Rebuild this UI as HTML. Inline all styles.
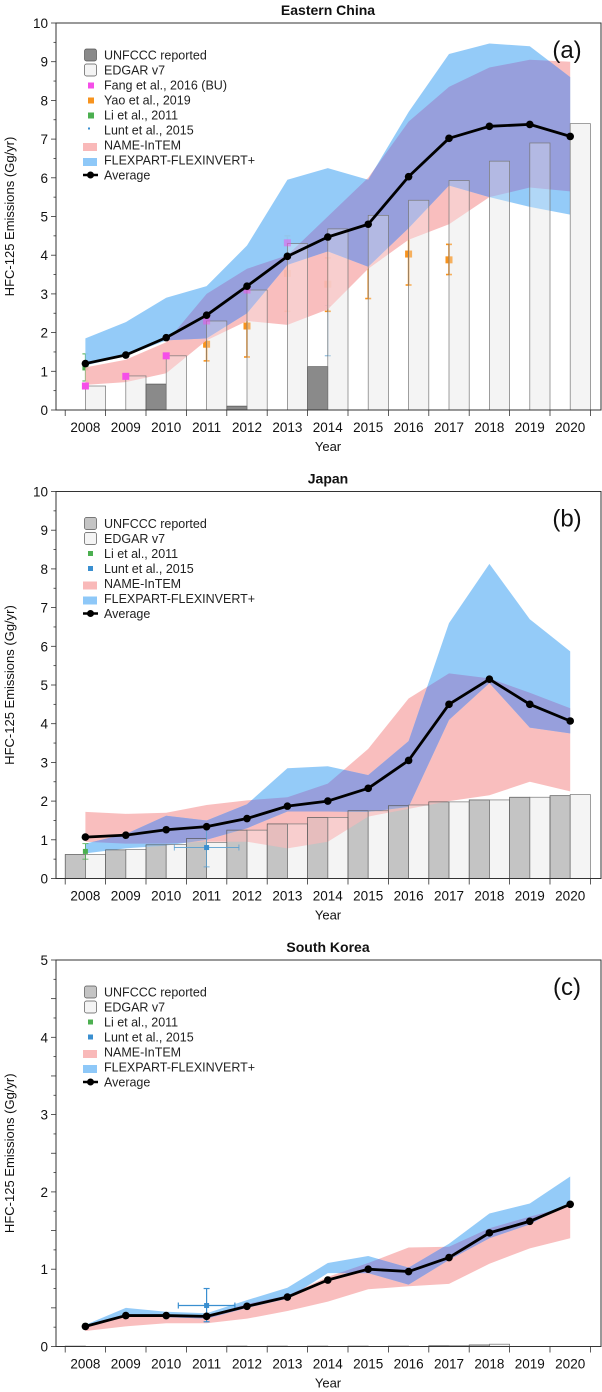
<!DOCTYPE html>
<html><head><meta charset="utf-8">
<style>
html,body{margin:0;padding:0;background:#fff;}
svg{display:block;font-family:"Liberation Sans",Arial,sans-serif;}
</style></head>
<body>
<svg id="fig" width="602" height="1392" viewBox="0 0 602 1392" xmlns="http://www.w3.org/2000/svg"></svg>
<script>
const years = [2008,2009,2010,2011,2012,2013,2014,2015,2016,2017,2018,2019,2020];
// Eastern China
const chinaAvg = [1.2,1.42,1.87,2.45,3.2,3.97,4.47,4.8,6.03,7.02,7.33,7.38,7.07];
const chinaEdgar = [0.62,0.88,1.4,2.3,3.1,4.3,4.68,5.03,5.42,5.93,6.43,6.9,7.4];
const chinaUnfccc = [0,0,0.67,0,0.1,0,1.12,0,0,0,0,0,0];
const chinaNameLo = [0.65,0.72,0.95,1.8,2.3,2.2,2.6,3.65,4.4,4.8,5.5,5.75,5.65];
const chinaNameHi = [1.1,1.3,1.75,3.0,3.65,4.0,5.0,6.0,7.45,8.35,8.85,9.05,9.0];
const chinaFlexLo = [1.15,1.4,1.8,1.85,2.5,3.75,4.1,3.7,4.7,5.8,5.5,5.25,5.05];
const chinaFlexHi = [1.85,2.27,2.9,3.2,4.25,5.95,6.25,5.95,7.7,9.2,9.47,9.4,8.6];
const yaoYears = [2011,2012,2013,2014,2015,2016,2017];
const yaoVal = [1.7,2.17,3.53,3.25,4.05,4.03,3.88];
const yaoLo = [1.27,1.37,2.55,2.55,2.88,3.23,3.5];
const yaoHi = [2.12,2.95,4.5,3.93,5.25,4.82,4.28];
const fangYears = [2008,2009,2010,2011,2012,2013];
const fangVal = [0.62,0.87,1.4,2.3,3.1,4.32];
// Japan
const japanAvg = [1.07,1.12,1.26,1.34,1.55,1.87,2.0,2.33,3.05,4.5,5.15,4.5,4.07];
const japanUnfccc = [0.62,0.74,0.87,1.03,1.25,1.41,1.58,1.75,1.88,1.98,2.03,2.1,2.14];
const japanEdgar = [0.62,0.75,0.88,0.93,1.25,1.41,1.58,1.75,1.9,1.98,2.03,2.1,2.17];
const japanNameLo = [0.95,0.9,0.9,0.95,0.95,0.78,0.95,1.6,1.8,2.0,2.15,2.5,2.25];
const japanNameHi = [1.72,1.67,1.7,1.9,2.02,2.1,2.45,3.35,4.65,5.3,5.17,4.8,4.4];
const japanFlexLo = [0.65,0.78,0.85,1.0,1.3,1.73,1.73,1.72,1.85,4.1,5.05,3.9,3.75];
const japanFlexHi = [0.9,1.15,1.62,1.5,1.92,2.85,2.9,2.67,3.55,6.6,8.13,6.7,5.87];
// South Korea
const koreaAvg = [0.26,0.4,0.4,0.39,0.52,0.64,0.86,1.0,0.97,1.15,1.47,1.62,1.84];
const koreaUnfccc = [0.005,0,0,0,0.005,0.005,0.005,0.005,0.005,0.01,0.02,0,0];
const koreaEdgar = [0,0,0,0,0,0,0,0,0,0.01,0.03,0,0];
const koreaNameLo = [0.2,0.26,0.3,0.3,0.36,0.46,0.58,0.74,0.78,0.81,1.07,1.27,1.4];
const koreaNameHi = [0.27,0.42,0.4,0.4,0.55,0.66,0.9,1.08,1.28,1.29,1.53,1.68,1.82];
const koreaFlexLo = [0.25,0.4,0.38,0.36,0.5,0.62,0.95,0.95,0.8,1.12,1.4,1.58,1.87];
const koreaFlexHi = [0.28,0.5,0.45,0.43,0.6,0.76,1.08,1.17,1.02,1.33,1.72,1.85,2.2];

const NS = "http://www.w3.org/2000/svg";
const svg = document.getElementById('fig');
function mk(tag, attrs, parent){
  const e = document.createElementNS(NS, tag);
  for (const k in attrs) e.setAttribute(k, attrs[k]);
  (parent||svg).appendChild(e);
  return e;
}
let clipId = 0;

function panel(cfg){
  const g = mk('g', {});
  
  
  const L = 56, R = 601, T = cfg.top, B = cfg.bottom;
  const X = yr => 85.4 + 40.4 * (yr - 2008);
  const Y = v => B - (B - T) * v / cfg.ymax;
  const slot = 40.4;
  const t = mk('text', {x: 328, y: T - 8, 'text-anchor': 'middle', 'font-size': 14, 'font-weight': 'bold', fill: '#111'}, g);
  t.textContent = cfg.title;
  
  
  // solid bar backgrounds
  const drawBars = (alpha, stroke) => {
    years.forEach((yr, i) => {
      if (cfg.unfccc[i] > 0) {
        const b = mk('rect', {x: X(yr) - slot/2, y: Y(cfg.unfccc[i]), width: slot/2, height: B - Y(cfg.unfccc[i]), fill: cfg.unfColor, 'fill-opacity': alpha, stroke: stroke ? '#555' : 'none', 'stroke-width': 0.7}, g);
        
        
      }
      if (cfg.edgar[i] > 0) {
        const b = mk('rect', {x: X(yr), y: Y(cfg.edgar[i]), width: slot/2, height: B - Y(cfg.edgar[i]), fill: '#f4f4f4', 'fill-opacity': alpha, stroke: stroke ? '#777' : 'none', 'stroke-width': 0.7}, g);
        
        
      }
    });
  };
  drawBars(1, false);
  if (cfg.pre) cfg.pre(g, X, Y);
  const poly = (lo, hi) => {
    const pts = years.map((yr, i) => X(yr) + ',' + Y(hi[i]));
    for (let i = years.length - 1; i >= 0; i--) pts.push(X(years[i]) + ',' + Y(lo[i]));
    return pts.join(' ');
  };
  const pn = poly(cfg.nameLo, cfg.nameHi), pf = poly(cfg.flexLo, cfg.flexHi);
  const p1 = mk('polygon', {points: pn, fill: '#f9b9b9', 'fill-opacity': 0.92}, g);
  
  
  const p2 = mk('polygon', {points: pf, fill: '#8ec8f8', 'fill-opacity': 0.95}, g);
  
  
  const cid = 'clip' + (clipId++);
  const cp = mk('clipPath', {id: cid}, g);
  mk('polygon', {points: pf}, cp);
  const p3 = mk('polygon', {points: pn, fill: '#979fdc', 'clip-path': 'url(#' + cid + ')'}, g);
  
  
  // translucent bars on top (bands show through)
  drawBars(0.3, true);
  if (cfg.post) cfg.post(g, X, Y);
  const line = mk('polyline', {points: years.map((yr, i) => X(yr) + ',' + Y(cfg.avg[i])).join(' '), fill: 'none', stroke: '#000', 'stroke-width': 2.8, 'stroke-linejoin': 'round'}, g);
  
  
  years.forEach((yr, i) => {
    const c = mk('circle', {cx: X(yr), cy: Y(cfg.avg[i]), r: 3.8, fill: '#000'}, g);
    
    
  });
  mk('rect', {x: L, y: T, width: R - L, height: B - T, fill: 'none', stroke: '#333', 'stroke-width': 1}, g);
  for (let k = 0; k <= 20; k++) {
    const v = k * cfg.ymax / 20; const y = Y(v);
    mk('line', {x1: L - (k % 2 ? 2.5 : 5), x2: L, y1: y, y2: y, stroke: '#333', 'stroke-width': 0.8}, g);
    if (k % 2 === 0 && cfg.ymax === 10 || k % 4 === 0 && cfg.ymax === 5) {
      const tl = mk('text', {x: L - 8, y: y + 5, 'text-anchor': 'end', 'font-size': 13.5, fill: '#111'}, g);
      tl.textContent = String(Math.round(v));
      
      
    }
  }
  for (let k = 0; k <= 13; k++) {
    const x = X(2007.5 + k);
    mk('line', {x1: x, x2: x, y1: B, y2: B + 6, stroke: '#333', 'stroke-width': 0.8}, g);
  }
  years.forEach(yr => {
    const tl = mk('text', {x: X(yr), y: B + 22, 'text-anchor': 'middle', 'font-size': 13.5, fill: '#111'}, g);
    tl.textContent = String(yr);
    
    
  });
  const xt = mk('text', {x: 328, y: B + 41, 'text-anchor': 'middle', 'font-size': 13, fill: '#111'}, g);
  xt.textContent = 'Year';
  
  
  const yc = (T + B) / 2;
  const yt = mk('text', {x: 0, y: 0, transform: 'translate(14,' + yc + ') rotate(-90)', 'text-anchor': 'middle', 'font-size': 13, fill: '#111'}, g);
  yt.textContent = 'HFC-125 Emissions (Gg/yr)';
  
  
  const pl = mk('text', {x: 567, y: T + 35, 'text-anchor': 'middle', 'font-size': 24, fill: '#111'}, g);
  pl.textContent = cfg.label;
  
  
  const lg = mk('g', {}, g);
  
  
  let ly = T + cfg.legTop;
  cfg.legend.forEach(it => {
    const e = mk('g', {}, lg);
    
    
    if (it.type === 'bar') mk('rect', {x: 84.5, y: ly - 6, width: 12, height: 12, rx: 2, fill: it.color, stroke: '#555', 'stroke-width': 0.7}, e);
    else if (it.type === 'sq') mk('rect', {x: 88, y: ly - 2.5, width: it.s || 5, height: it.s || 5, fill: it.color}, e);
    else if (it.type === 'band') mk('rect', {x: 83, y: ly - 2, width: 14, height: 8, fill: it.color}, e);
    else { mk('line', {x1: 83, x2: 98, y1: ly, y2: ly, stroke: '#000', 'stroke-width': 2.5}, e); mk('circle', {cx: 90.5, cy: ly, r: 3.5, fill: '#000'}, e); }
    const tx = mk('text', {x: 104, y: ly + 4.5, 'font-size': 12.5, fill: '#222'}, e);
    tx.textContent = it.text;
    ly += 15;
  });
}

function errBar(g, x, y, lo, hi, col, w, name, xlo, xhi){
  const e = mk('g', {}, g);
  
  
  mk('line', {x1: x, x2: x, y1: lo, y2: hi, stroke: col, 'stroke-width': w}, e);
  mk('line', {x1: x - 3, x2: x + 3, y1: lo, y2: lo, stroke: col, 'stroke-width': w}, e);
  mk('line', {x1: x - 3, x2: x + 3, y1: hi, y2: hi, stroke: col, 'stroke-width': w}, e);
  if (xlo !== undefined) {
    mk('line', {x1: xlo, x2: xhi, y1: y, y2: y, stroke: col, 'stroke-width': w}, e);
    mk('line', {x1: xlo, x2: xlo, y1: y - 3, y2: y + 3, stroke: col, 'stroke-width': w}, e);
    mk('line', {x1: xhi, x2: xhi, y1: y - 3, y2: y + 3, stroke: col, 'stroke-width': w}, e);
  }
  return e;
}

panel({id: 'eastern-china', title: 'Eastern China', label: '(a)', top: 23, bottom: 410, ymax: 10,
  avg: chinaAvg, edgar: chinaEdgar, unfccc: chinaUnfccc, unfColor: '#8a8a8a',
  nameLo: chinaNameLo, nameHi: chinaNameHi, flexLo: chinaFlexLo, flexHi: chinaFlexHi, legTop: 32,
  pre: (g, X, Y) => {
    yaoYears.forEach((yr, i) => {
      const e = errBar(g, X(yr), Y(yaoVal[i]), Y(yaoLo[i]), Y(yaoHi[i]), '#f7931e', 1.6, 'yao-2019-point-' + yr);
      mk('rect', {x: X(yr) - 3.5, y: Y(yaoVal[i]) - 3.5, width: 7, height: 7, fill: '#f7931e'}, e);
    });
    errBar(g, X(2008), Y(1.1), Y(0.75), Y(1.45), '#4caf50', 1, 'li-2011-point');
    mk('rect', {x: X(2008) - 3, y: Y(1.1) - 3, width: 6, height: 6, fill: '#4caf50'}, g);
    errBar(g, X(2014), Y(2.0), Y(1.4), Y(2.7), '#5aa0d0', 0.8, 'lunt-2015-point');
  },
  post: (g, X, Y) => {
    fangYears.forEach((yr, i) => {
      const r = mk('rect', {x: X(yr) - 3.5, y: Y(fangVal[i]) - 3.5, width: 7, height: 7, fill: '#f54ee8', 'fill-opacity': yr >= 2011 ? 0.5 : 1}, g);
      
      
    });
  },
  legend: [
    {type: 'bar', color: '#8a8a8a', text: 'UNFCCC reported'},
    {type: 'bar', color: '#f4f4f4', text: 'EDGAR v7'},
    {type: 'sq', color: '#f54ee8', text: 'Fang et al., 2016 (BU)', s: 6},
    {type: 'sq', color: '#f7931e', text: 'Yao et al., 2019', s: 6},
    {type: 'sq', color: '#4caf50', text: 'Li et al., 2011', s: 6},
    {type: 'sq', color: '#3a8fd0', text: 'Lunt et al., 2015', s: 2},
    {type: 'band', color: '#f9b9b9', text: 'NAME-InTEM'},
    {type: 'band', color: '#8ec8f8', text: 'FLEXPART-FLEXINVERT+'},
    {type: 'avg', text: 'Average'}
  ]});

panel({id: 'japan', title: 'Japan', label: '(b)', top: 491.5, bottom: 878.5, ymax: 10,
  avg: japanAvg, edgar: japanEdgar, unfccc: japanUnfccc, unfColor: '#c4c4c4',
  nameLo: japanNameLo, nameHi: japanNameHi, flexLo: japanFlexLo, flexHi: japanFlexHi, legTop: 32,
  post: (g, X, Y) => {
    errBar(g, X(2008), Y(0.7), Y(0.5), Y(0.9), '#4caf50', 0.8, 'li-2011-point');
    mk('rect', {x: X(2008) - 2.5, y: Y(0.7) - 2.5, width: 5, height: 5, fill: '#4caf50'}, g);
    errBar(g, X(2011), Y(0.8), Y(0.3), Y(1.3), '#5aa0d0', 0.8, 'lunt-2015-point', X(2010.2), X(2011.8));
    mk('rect', {x: X(2011) - 2.5, y: Y(0.8) - 2.5, width: 5, height: 5, fill: '#3a8fd0'}, g);
  },
  legend: [
    {type: 'bar', color: '#c4c4c4', text: 'UNFCCC reported'},
    {type: 'bar', color: '#f4f4f4', text: 'EDGAR v7'},
    {type: 'sq', color: '#4caf50', text: 'Li et al., 2011', s: 5},
    {type: 'sq', color: '#3a8fd0', text: 'Lunt et al., 2015', s: 5},
    {type: 'band', color: '#f9b9b9', text: 'NAME-InTEM'},
    {type: 'band', color: '#8ec8f8', text: 'FLEXPART-FLEXINVERT+'},
    {type: 'avg', text: 'Average'}
  ]});

panel({id: 'south-korea', title: 'South Korea', label: '(c)', top: 960, bottom: 1346.5, ymax: 5,
  avg: koreaAvg, edgar: koreaEdgar, unfccc: koreaUnfccc, unfColor: '#c4c4c4',
  nameLo: koreaNameLo, nameHi: koreaNameHi, flexLo: koreaFlexLo, flexHi: koreaFlexHi, legTop: 32,
  post: (g, X, Y) => {
    mk('rect', {x: X(2008) - 2.5, y: Y(0.27) - 2.5, width: 5, height: 5, fill: '#4caf50'}, g);
    errBar(g, X(2011), Y(0.53), Y(0.32), Y(0.75), '#3a8fd0', 1.2, 'lunt-2015-point', X(2010.3), X(2011.7));
    mk('rect', {x: X(2011) - 2.5, y: Y(0.53) - 2.5, width: 5, height: 5, fill: '#3a8fd0'}, g);
  },
  legend: [
    {type: 'bar', color: '#c4c4c4', text: 'UNFCCC reported'},
    {type: 'bar', color: '#f4f4f4', text: 'EDGAR v7'},
    {type: 'sq', color: '#4caf50', text: 'Li et al., 2011', s: 5},
    {type: 'sq', color: '#3a8fd0', text: 'Lunt et al., 2015', s: 5},
    {type: 'band', color: '#f9b9b9', text: 'NAME-InTEM'},
    {type: 'band', color: '#8ec8f8', text: 'FLEXPART-FLEXINVERT+'},
    {type: 'avg', text: 'Average'}
  ]});
</script>
</body></html>
